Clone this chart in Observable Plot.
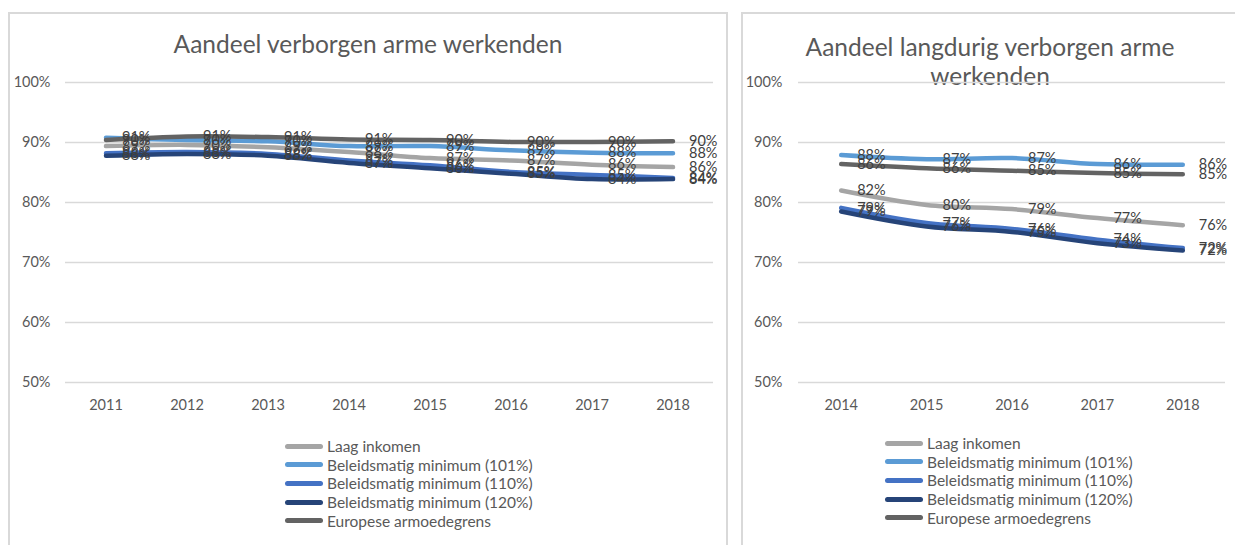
<!DOCTYPE html>
<html>
<head>
<meta charset="utf-8">
<script src="https://cdn.jsdelivr.net/npm/d3@7"></script>
<script src="https://cdn.jsdelivr.net/npm/@observablehq/plot@0.6"></script>
<style>
  html, body { margin: 0; padding: 0; background: #fff; }
  body { width: 1235px; height: 545px; position: relative; overflow: hidden; font-family: Lato, "Open Sans", sans-serif; }
  .panel { position: absolute; border: 2px solid #d9d9d9; border-bottom: none; box-sizing: border-box; }
  .title { position: absolute; color: #595959; font-size: 24.5px; text-align: center; line-height: 29px; }
  .chart { position: absolute; }
  .legend { position: absolute; font-size: 15.5px; color: #595959; }
  .legend .row { height: 18.6px; display: flex; align-items: center; white-space: nowrap; }
  .legend .sw { display: inline-block; width: 38px; height: 5px; border-radius: 2.5px; margin-right: 4px; }
</style>
</head>
<body>
<div class="panel" style="left:8px; top:12px; width:720px; height:540px;"></div>
<div class="panel" style="left:741px; top:12px; width:500px; height:540px;"></div>
<div class="title" style="left:8px; top:29px; width:720px;">Aandeel verborgen arme werkenden</div>
<div class="title" style="left:790px; top:32px; width:400px;">Aandeel langdurig verborgen arme<br>werkenden</div>
<div id="left" class="chart" style="left:0px; top:60px;"></div>
<div id="right" class="chart" style="left:742px; top:60px;"></div>
<div id="legLeft" class="legend" style="left:285px; top:437px;"></div>
<div id="legRight" class="legend" style="left:885px; top:434px;"></div>
<script>
// ---- data ----
const seriesNames = [
  "Laag inkomen",
  "Beleidsmatig minimum (101%)",
  "Beleidsmatig minimum (110%)",
  "Beleidsmatig minimum (120%)",
  "Europese armoedegrens"
];
const seriesColors = ["#a5a5a5", "#5b9bd5", "#4472c4", "#264478", "#636363"];

const yearsA = [2011, 2012, 2013, 2014, 2015, 2016, 2017, 2018];
const laagA   = [89.4, 89.6, 89.2, 88.4, 87.4, 87.0, 86.3, 85.9];
const min101A = [90.8, 90.4, 90.2, 89.4, 89.4, 88.7, 88.3, 88.2];
const min110A = [88.2, 88.4, 88.1, 87.0, 86.2, 85.1, 84.6, 84.1];
const min120A = [87.8, 88.1, 87.8, 86.6, 85.7, 84.8, 83.9, 83.9];
const euroA   = [90.4, 91.0, 90.9, 90.5, 90.4, 90.1, 90.1, 90.2];

const yearsB = [2014, 2015, 2016, 2017, 2018];
const laagB   = [82.0, 79.6, 78.9, 77.4, 76.2];
const min101B = [87.9, 87.2, 87.4, 86.4, 86.3];
const min110B = [79.1, 76.6, 75.6, 73.8, 72.4];
const min120B = [78.5, 76.0, 75.1, 73.2, 72.0];
const euroB   = [86.4, 85.7, 85.3, 84.9, 84.7];

const yTicks = [50, 60, 70, 80, 90, 100];

function toRows(years, lists) {
  const rows = [];
  lists.forEach((vals, i) => {
    vals.forEach((v, j) => rows.push({ series: seriesNames[i], year: years[j], value: v }));
  });
  return rows;
}

function makeChart(years, lists, opts) {
  const rows = toRows(years, lists);
  return Plot.plot({
    width: opts.width,
    height: 360,
    marginLeft: opts.marginLeft,
    marginRight: opts.marginRight,
    marginTop: 22,
    marginBottom: 38,
    style: { fontFamily: "Lato, 'Open Sans', sans-serif", fontSize: "14px", background: "transparent", overflow: "visible" },
    x: { domain: [years[0] - 0.5, years[years.length - 1] + 0.5] },
    y: { domain: [50, 100] },
    color: { domain: seriesNames, range: seriesColors },
    marks: [
      Plot.gridY(yTicks, { stroke: "#d9d9d9", strokeOpacity: 1, strokeWidth: 1.3 }),
      Plot.axisY(yTicks, { tickSize: 0, tickPadding: opts.yPad, tickFormat: d => d + "%", fill: "#595959", fontSize: 14.5, label: null }),
      Plot.axisX(years, { tickSize: 0, tickPadding: 17, tickFormat: d => String(d), fill: "#595959", fontSize: 14.5, label: null }),
      Plot.line(rows, { x: "year", y: "value", z: "series", stroke: "series", strokeWidth: 4.5, curve: "catmull-rom", strokeLinecap: "round", strokeLinejoin: "round" }),
      Plot.text(rows, { x: "year", y: "value", text: d => Math.round(d.value) + "%", dx: 16, textAnchor: "start", fill: "#404040", fontSize: 14.5 })
    ]
  });
}

document.getElementById("left").appendChild(
  makeChart(yearsA, [laagA, min101A, min110A, min120A, euroA], { width: 727, marginLeft: 65, marginRight: 14, yPad: 15 })
);
document.getElementById("right").appendChild(
  makeChart(yearsB, [laagB, min101B, min110B, min120B, euroB], { width: 493, marginLeft: 56, marginRight: 10, yPad: 16 })
);

function makeLegend(id) {
  const el = document.getElementById(id);
  seriesNames.forEach((name, i) => {
    const row = document.createElement("div");
    row.className = "row";
    const sw = document.createElement("span");
    sw.className = "sw";
    sw.style.background = seriesColors[i];
    const t = document.createElement("span");
    t.textContent = name;
    row.appendChild(sw);
    row.appendChild(t);
    el.appendChild(row);
  });
}
makeLegend("legLeft");
makeLegend("legRight");
</script>
</body>
</html>
